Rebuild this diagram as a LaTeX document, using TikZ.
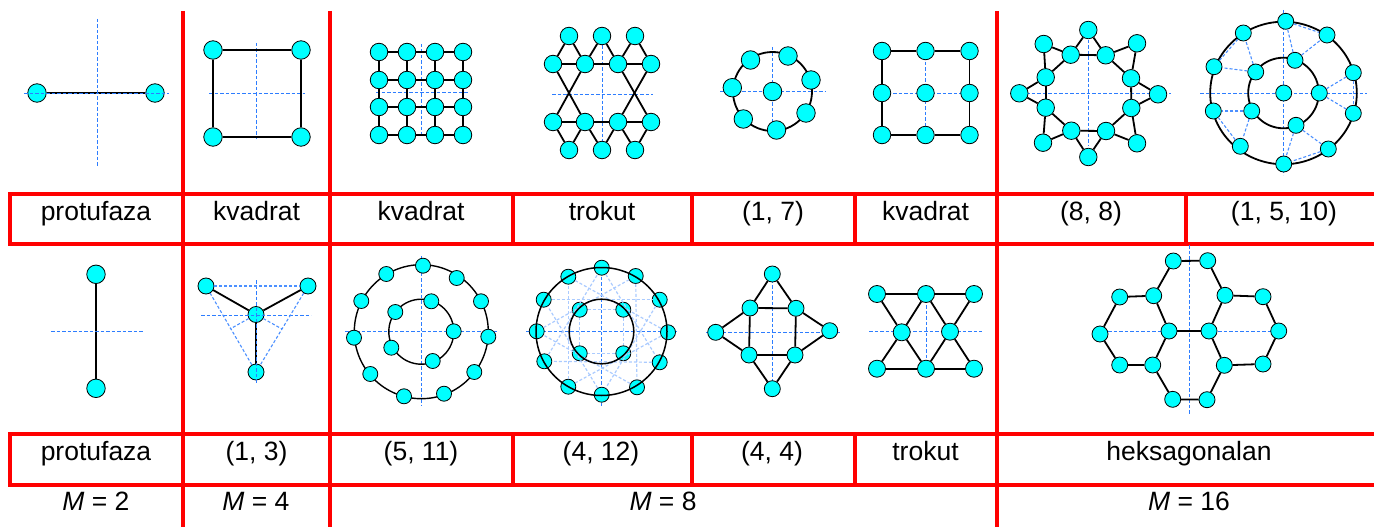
\documentclass[tikz,border=0pt]{standalone}
\usepackage{fontspec}
\setmainfont{Liberation Sans}
\definecolor{gridred}{RGB}{255,0,0}
\definecolor{axisblue}{RGB}{45,125,255}
\definecolor{dotcyan}{RGB}{0,255,255}
\tikzset{
  dot/.style={circle, draw=black, line width=0.8pt, fill=dotcyan, minimum size=18.5pt, inner sep=0pt},
  smalldot/.style={dot, minimum size=16pt},
  bond/.style={draw=black, line width=1.8pt},
  thinbond/.style={draw=black, line width=1.4pt},
  axis/.style={draw=axisblue, line width=1.2pt, dash pattern=on 3.5pt off 2pt},
  mesh/.style={draw=axisblue!85, line width=1.1pt, dash pattern=on 3pt off 2pt},
  palemesh/.style={draw=axisblue!40, line width=1.2pt, dash pattern=on 3pt off 2pt},
  grid/.style={draw=gridred, line width=3.4pt},
  lab/.style={font=\fontsize{26.5}{30}\selectfont, inner sep=0pt, text depth=0pt, anchor=base}
}
\begin{document}
\begin{tikzpicture}[x=1pt,y=-1pt]
    \useasboundingbox (0,0) rectangle (1374,527);
    % Tablica
    \foreach \n/\xa/\ya/\xb/\yb in {a/183/11/183/527, b/330/11/330/527, c/997/11/997/527,
        d/8/194/1374/194, e/8/244/1374/244, f/8/434/1374/434, g/8/485/1374/485,
        h/10/194/10/244, i/513/194/513/244, j/692/194/692/244, k/855/194/855/244, l/1186/194/1186/244,
        m/10/434/10/485, o/513/434/513/485, p/692/434/692/485, q/855/434/855/485} {
        \coordinate (\n1) at (\xa,\ya);
        \coordinate (\n2) at (\xb,\yb);
        \draw[grid] (\n1) -- (\n2);
    }

    % Osi ispod cvorova
    \foreach \n/\xa/\xb/\yy/\xx/\ya/\yb in {b/209/305/93.5/256.5/43/139, c/376/469/92.5/421.5/44/136,
        d/552/653/94.5/602.5/40/143, e/720/825/91.5/772.5/47/125, f/882/969/93.5/925.5/51/135,
        g/1026/1171/93.5/1088.5/40/145, h/1200/1367/93.5/1283.5/10/175,
        k/345/498/331.5/421.5/256/406, l/526/677/331.5/601.5/260/406,
        m/706/840/332.5/772.5/274/389, n/869/982/331.5/926.5/294/369, o/1108/1272/331.5/1189.5/245/415} {
        \coordinate (\n l) at (\xa,\yy);
        \coordinate (\n r) at (\xb,\yy);
        \coordinate (\n t) at (\xx,\ya);
        \coordinate (\n u) at (\xx,\yb);
        \draw[axis] (\n l) -- (\n r);
        \draw[axis] (\n t) -- (\n u);
    }

    % M = 2
    \foreach \n/\x/\y in {1/37/93, 2/155/93} \node[dot] (a\n) at (\x,\y) {};
    \draw[bond] (a1) -- (a2);
    \coordinate (al) at (24,93.5);
    \coordinate (ar) at (169,93.5);
    \coordinate (at) at (97.5,19);
    \coordinate (au) at (97.5,166);
    \draw[axis] (al) -- (ar);
    \draw[axis] (at) -- (au);

    \foreach \n/\x/\y in {1/96/274.3, 2/96/388.3} \node[dot] (i\n) at (\x,\y) {};
    \draw[bond] (i1) -- (i2);
    \coordinate (il) at (51,331.5);
    \coordinate (ir) at (144,331.5);
    \draw[axis] (il) -- (ir);

    % M = 4
    \foreach \n/\x/\y in {1/213/50, 2/301/50, 3/301/137, 4/213/137} \node[dot] (b\n) at (\x,\y) {};
    \foreach \p/\q in {1/2, 2/3, 3/4, 4/1} \draw[bond] (b\p) -- (b\q);

    \foreach \n/\x/\y in {1/206/286, 2/308/286, 3/256/372, 4/256/314.5} \node[smalldot] (j\n) at (\x,\y) {};
    \foreach \q in {1,2,3} \draw[bond] (j4) -- (j\q);
    \coordinate (jl) at (201,315.5);
    \coordinate (jr) at (311,315.5);
    \coordinate (jt) at (256.5,280);
    \coordinate (ju) at (256.5,384);
    \coordinate (jp) at (230,329);
    \coordinate (jq) at (282,329);
    \draw[axis] (jl) -- (jr);
    \draw[axis] (jt) -- (ju);
    \foreach \p/\q in {1/2, 2/3, 3/1} \draw[mesh] (j\p) -- (j\q);
    \draw[mesh] (j4) -- (jp);
    \draw[mesh] (j4) -- (jq);

    % M = 8, gornji red
    \foreach \u [count=\i from 0] in {379,407,435,463}
        \foreach \v [count=\j from 1] in {52,80,107,135} {
            \pgfmathtruncatemacro{\n}{4*\i+\j}
            \node[dot, minimum size=17.5pt] (c\n) at (\u,\v) {};
        }
    \foreach \p/\q in {1/2, 2/3, 3/4, 5/6, 6/7, 7/8, 9/10, 10/11, 11/12, 13/14, 14/15, 15/16,
        1/5, 5/9, 9/13, 2/6, 6/10, 10/14, 3/7, 7/11, 11/15, 4/8, 8/12, 12/16}
        \draw[bond] (c\p) -- (c\q);

    \foreach \n/\x/\y in {1/569/36, 2/602/36, 3/635/36, 4/553/64, 5/585/64, 6/618/64, 7/651/64,
        8/553/122, 9/585/122, 10/618/122, 11/651/122, 12/569/150, 13/602/150, 14/635/150}
        \node[dot, minimum size=17.5pt] (d\n) at (\x,\y) {};
    \foreach \p/\q in {1/4, 1/5, 2/5, 2/6, 3/6, 3/7, 4/5, 5/6, 6/7, 8/9, 9/10, 10/11,
        4/9, 5/8, 6/11, 7/10, 12/8, 12/9, 13/9, 13/10, 14/10, 14/11}
        \draw[bond] (d\p) -- (d\q);

    \coordinate (e0) at (772.5,91.5);
    \draw[bond] (e0) circle (39.5);
    \foreach \n/\x/\y in {0/772.5/91.5, 1/750.5/60, 2/788/56, 3/811/80, 4/806/113, 5/776.5/130, 6/743.3/119, 7/732.3/87.7}
        \node[dot] (e\n) at (\x,\y) {};

    \foreach \n/\x/\y in {1/882/51, 2/925.5/51, 3/969.5/51, 4/969.5/93, 5/969.5/135, 6/925.5/135, 7/882/135, 8/882/93, 9/925.5/93}
        \node[dot, minimum size=17.5pt] (f\n) at (\x,\y) {};
    \foreach \p/\q in {1/2, 2/3, 3/4, 4/5, 5/6, 6/7, 7/8, 8/1} \draw[bond] (f\p) -- (f\q);

    % M = 8, donji red
    \coordinate (k0) at (421.3,331.7);
    \draw[thinbond] (k0) circle (67);
    \draw[thinbond] (k0) circle (32.5);
    \foreach \n/\x/\y in {1/423/265.7, 2/456.7/278, 3/481/301.3, 4/488.3/336.7, 5/474.3/372, 6/444/393.7,
        7/404/396.3, 8/370.3/374, 9/354/337.7, 10/361.3/301, 11/386.3/274,
        12/431.3/301.3, 13/453.7/331.3, 14/432.7/361, 15/391.3/347.7, 16/395.3/312}
        \node[smalldot, minimum size=15pt] (k\n) at (\x,\y) {};

    \coordinate (l0) at (601.5,331.5);
    \foreach \n/\x/\y in {1/601.7/267.7, 2/635.7/276, 3/659.7/299.7, 4/668/332.3, 5/659.7/362.3, 6/637/387.3,
        7/601.7/394.7, 8/568.3/386.7, 9/544.3/361.3, 10/536.7/331.3, 11/543.7/299.7, 12/568.3/276.7,
        13/579.7/309.7, 14/623.3/309.7, 15/623.3/353.3, 16/579.7/353.3}
        \node[smalldot, minimum size=15pt] (l\n) at (\x,\y) {};
    \foreach \p/\q in {1/5, 2/6, 3/7, 4/8, 5/9, 6/10, 7/11, 8/12, 9/1, 10/2, 11/3, 12/4, 13/14, 14/15, 15/16, 16/13}
        \draw[palemesh] (l\p) -- (l\q);
    \draw[bond, line width=1.5pt] (l0) circle [x radius=65.5, y radius=64];
    \draw[bond, line width=1.5pt] (l0) circle (32.3);

    \foreach \n/\x/\y in {1/772.3/274, 2/796/308.3, 3/829.7/330.7, 4/795/355, 5/772.3/388.7, 6/749/355, 7/715.7/332.3, 8/750/308}
        \node[smalldot] (m\n) at (\x,\y) {};
    \foreach \p/\q in {1/2, 1/8, 2/3, 3/4, 4/5, 5/6, 6/7, 7/8, 8/2, 2/4, 4/6, 6/8}
        \draw[bond] (m\p) -- (m\q);

    \foreach \n/\x/\y in {1/877/294, 2/926/294, 3/974/294, 4/901.7/332.3, 5/950/331.7, 6/877/368.7, 7/926/368.7, 8/974/368.7}
        \node[smalldot, minimum size=17pt] (n\n) at (\x,\y) {};
    \foreach \p/\q in {1/2, 2/3, 6/7, 7/8, 1/4, 4/7, 2/4, 4/6, 2/5, 5/8, 3/5, 5/7}
        \draw[bond] (n\p) -- (n\q);

    % M = 16
    \foreach \n/\x/\y in {1/1088.3/30, 2/1137/43.3, 3/1158/94.3, 4/1137/143.3, 5/1088.3/157, 6/1043/142.7, 7/1019.3/93.3, 8/1043.7/44,
        9/1070.7/54.7, 10/1105.7/55.3, 11/1131/78.3, 12/1131.3/108, 13/1106/131, 14/1071.3/130.7, 15/1045.7/107.7, 16/1045.7/77.3}
        \node[dot, minimum size=17.5pt] (g\n) at (\x,\y) {};
    \foreach \p/\q in {9/10, 10/11, 11/12, 12/13, 13/14, 14/15, 15/16, 16/9,
        1/9, 1/10, 2/10, 2/11, 3/11, 3/12, 4/12, 4/13, 5/13, 5/14, 6/14, 6/15, 7/15, 7/16, 8/16, 8/9}
        \draw[bond] (g\p) -- (g\q);

    \coordinate (h0) at (1283.5,93);
    \draw[bond] (h0) circle [x radius=73.3, y radius=71.3];
    \draw[bond] (h0) circle (35.3);
    \foreach \n/\x/\y in {0/1283.7/93, 1/1295/60.3, 2/1319.3/93, 3/1296/125.3, 4/1251.7/111, 5/1255.7/72,
        6/1285.7/21.3, 7/1327/35, 8/1353.3/72.7, 9/1353.3/113.3, 10/1328.3/149, 11/1283.7/164,
        12/1240.3/146.3, 13/1213.3/111, 14/1214/66.7, 15/1243.3/33}
        \node[smalldot] (h\n) at (\x,\y) {};
    \foreach \p/\q in {1/6, 1/7, 2/8, 2/9, 3/10, 3/11, 4/12, 4/13, 5/14, 5/15, 6/7, 8/9, 10/11, 12/13, 14/15}
        \draw[mesh] (h\p) -- (h\q);

    \foreach \n/\x/\y in {1/1173.3/261, 2/1207.7/260.7, 3/1119.7/297, 4/1153.7/295.7, 5/1225/295.3, 6/1263/296.7,
        7/1100/334, 8/1169/331, 9/1209/331, 10/1278.7/331, 11/1119.7/365, 12/1152.7/365, 13/1224.3/365.3,
        14/1263/364, 15/1172.7/399.3, 16/1207/399.7}
        \node[smalldot] (o\n) at (\x,\y) {};
    \foreach \p/\q in {1/2, 1/4, 2/5, 3/4, 5/6, 3/7, 4/8, 5/9, 6/10, 7/11, 8/9, 8/12, 9/13, 10/14, 11/12, 13/14, 12/15, 13/16, 15/16}
        \draw[bond] (o\p) -- (o\q);

    % Natpisi
    \foreach \n/\x/\t in {a/96/protufaza, b/256.5/kvadrat, c/421/kvadrat, d/602/trokut, e/773/{(1, 7)},
        f/925.5/kvadrat, g/1091/{(8, 8)}, h/1284/{(1, 5, 10)}}
        \node[lab] (t\n) at (\x,220.5) {\t};
    \foreach \n/\x/\t in {i/96/protufaza, j/256.5/{(1, 3)}, k/421/{(5, 11)}, l/601/{(4, 12)}, m/772/{(4, 4)},
        n/925.5/trokut, o/1189/heksagonalan}
        \node[lab] (t\n) at (\x,460.5) {\t};
    \foreach \n/\x/\t in {2/96/2, 4/256/4, 8/663/8, 16/1189/16}
        \node[lab] (s\n) at (\x,510) {\textit{M} = \t};
\end{tikzpicture}
\end{document}
